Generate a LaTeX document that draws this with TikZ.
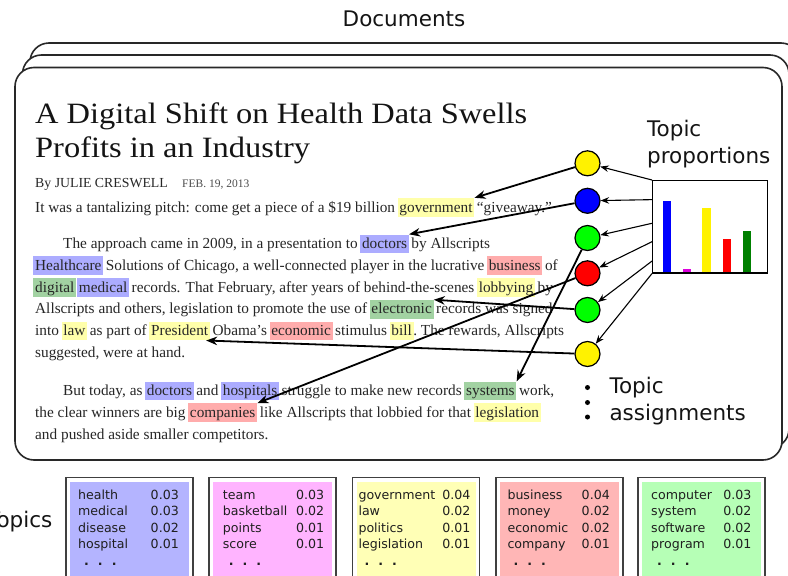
\documentclass[tikz,border=0pt]{standalone}
\usepackage{fontspec}
\setmainfont{Liberation Serif}
\newfontfamily\labfont{DejaVu Sans}
\newfontfamily\artfont{Liberation Serif}
\newfontfamily\titfont[FakeStretch=1.1]{Liberation Serif}
\usetikzlibrary{arrows.meta,calc}

\definecolor{hlB}{RGB}{172,172,255}
\definecolor{hlY}{RGB}{255,255,170}
\definecolor{hlR}{RGB}{255,172,172}
\definecolor{hlG}{RGB}{162,210,162}
\definecolor{tbB}{RGB}{180,180,255}
\definecolor{tbP}{RGB}{255,180,255}
\definecolor{tbY}{RGB}{255,255,182}
\definecolor{tbR}{RGB}{255,182,182}
\definecolor{tbG}{RGB}{182,255,182}
\definecolor{artgray}{RGB}{38,38,38}
\definecolor{cardline}{RGB}{40,40,40}
\definecolor{dkgreen}{RGB}{0,128,0}
\definecolor{magbar}{RGB}{220,0,220}

\newcommand\artbody{\artfont\fontsize{15.3}{21.8}\selectfont}
\newcommand\labsize{\labfont\fontsize{21.5}{26}\selectfont}
\newcommand\tsize{\labfont\fontsize{12.6}{15}\selectfont}
\def\sg{2.2pt}
\def\hg{0.6pt}

\newcommand\topicbox[6]{%
  \draw[tbframe] (#2,477.3) rectangle ++(127,130);
  \fill[#3] (#2+4,481.5) rectangle ++(119,130);
  \foreach \w/\n [count=\i] in {#6} {
    \node[tword, anchor=base west] (#1w\i) at (#2+#4, 482.4+16.6*\i) {\w};
    \node[tword, anchor=base east] (#1n\i) at (#2+#5, 482.4+16.6*\i) {\n};
  }
  \node[tword, anchor=base west, font={\labfont\bfseries\fontsize{12.6}{15}\selectfont}] (#1d) at (#2+#4+6, 565) {.\hspace{9pt}.\hspace{9pt}.};
}

\begin{document}
\begin{tikzpicture}[x=1pt,y=-1pt,
  card/.style={draw=cardline, line width=1.6pt, fill=white, rounded corners=19pt},
  txt/.style={inner sep=0pt, anchor=base west, font=\artbody, text=artgray},
  hl/.style={txt, inner xsep=1.8pt, text height=14pt, text depth=4.6pt, fill=#1},
  title/.style={inner sep=0pt, anchor=base west, font={\titfont\fontsize{29.5}{34}\selectfont}, text=black!92},
  lab/.style={inner sep=0pt, anchor=base west, font=\labsize, text=black!92},
  topic/.style={circle, draw=black, line width=1.2pt, minimum size=25pt, inner sep=0pt, fill=#1},
  bigarr/.style={draw=black, line width=1.8pt, -{Stealth[length=11pt,width=8.5pt,inset=3.5pt]}},
  thinarr/.style={draw=black, line width=1.1pt, -{Stealth[length=8.5pt,width=6.5pt,inset=2.8pt]}},
  tbframe/.style={draw=black!75, line width=1.3pt, fill=white},
  tword/.style={inner sep=0pt, font=\tsize, text=black!88},
  bar/.style={inner sep=0pt, minimum width=8.5pt, anchor=south, fill=#1}
]
\path[use as bounding box] (0,0) rectangle (788,576);
\clip (0,0) rectangle (788,576);

% heading
\node[inner sep=0pt, font=\labsize, text=black!92] (docs) at (404,19) {Documents};

% stacked document cards
\draw[card] (30,43) rectangle (800,436);
\draw[card] (22.5,55) rectangle (789,448);
\draw[card] (15,67.5) rectangle (782,460);

% article title and byline
\node[title] (t1) at (35,123) {A Digital Shift on Health Data Swells};
\node[title] (t2) at (35,157) {Profits in an Industry};
\node[txt, font={\artfont\fontsize{13.8}{16}\selectfont}] (by) at (35,187) {By JULIE CRESWELL};
\node[txt, font={\artfont\fontsize{11.5}{14}\selectfont}, text=black!70] (date) at ([xshift=14pt]by.base east) {FEB. 19, 2013};

% line 2
\node[txt] (l2a) at (35,212) {It was a tantalizing pitch: come get a piece of a \$19 billion};
\node[hl=hlY] (gov) at ([xshift=\sg]l2a.base east) {government};
\node[txt] (l2b) at ([xshift=\sg]gov.base east) {“giveaway.”};

% paragraph 2
\node[txt] (l3a) at (63,248.5) {The approach came in 2009, in a presentation to};
\node[hl=hlB] (doc1) at ([xshift=\sg]l3a.base east) {doctors};
\node[txt] (l3b) at ([xshift=\sg]doc1.base east) {by Allscripts};

\node[hl=hlB] (hc) at (33.2,270.3) {Healthcare};
\node[txt] (l4a) at ([xshift=\sg]hc.base east) {Solutions of Chicago, a well-connected player in the lucrative};
\node[hl=hlR] (bus) at ([xshift=\sg]l4a.base east) {business};
\node[txt] (l4b) at ([xshift=\sg]bus.base east) {of};

\node[hl=hlG] (dig) at (33.2,292.1) {digital};
\node[hl=hlB] (med) at ([xshift=\hg]dig.base east) {medical};
\node[txt] (l5a) at ([xshift=\sg]med.base east) {records. That February, after years of behind-the-scenes};
\node[hl=hlY] (lob) at ([xshift=\sg]l5a.base east) {lobbying};
\node[txt] (l5b) at ([xshift=\sg]lob.base east) {by};

\node[txt] (l6a) at (35,313.9) {Allscripts and others, legislation to promote the use of};
\node[hl=hlG] (elec) at ([xshift=\sg]l6a.base east) {electronic};
\node[txt] (l6b) at ([xshift=\sg]elec.base east) {records was signed};

\node[txt] (l7a) at (35,335.7) {into};
\node[hl=hlY] (law) at ([xshift=\sg]l7a.base east) {law};
\node[txt] (l7b) at ([xshift=\sg]law.base east) {as part of};
\node[hl=hlY] (pres) at ([xshift=\sg]l7b.base east) {President};
\node[txt] (l7c) at ([xshift=\sg]pres.base east) {Obama’s};
\node[hl=hlR] (econ) at ([xshift=\sg]l7c.base east) {economic};
\node[txt] (l7d) at ([xshift=\sg]econ.base east) {stimulus};
\node[hl=hlY] (bill) at ([xshift=\sg]l7d.base east) {bill};
\node[txt] (l7e) at ([xshift=-0.8pt]bill.base east) {.\ The rewards, Allscripts};

\node[txt] (l8) at (35,357.5) {suggested, were at hand.};

% paragraph 3
\node[txt] (l9a) at (63,395.5) {But today, as};
\node[hl=hlB] (doc2) at ([xshift=\sg]l9a.base east) {doctors};
\node[txt] (l9b) at ([xshift=\sg]doc2.base east) {and};
\node[hl=hlB] (hosp) at ([xshift=\sg]l9b.base east) {hospitals};
\node[txt] (l9c) at ([xshift=\sg]hosp.base east) {struggle to make new records};
\node[hl=hlG] (sys) at ([xshift=\sg]l9c.base east) {systems};
\node[txt] (l9d) at ([xshift=\sg]sys.base east) {work,};

\node[txt] (l10a) at (35,417.3) {the clear winners are big};
\node[hl=hlR] (comp) at ([xshift=\sg]l10a.base east) {companies};
\node[txt] (l10b) at ([xshift=\sg]comp.base east) {like Allscripts that lobbied for that};
\node[hl=hlY] (legis) at ([xshift=\sg]l10b.base east) {legislation};

\node[txt] (l11) at (35,439.1) {and pushed aside smaller competitors.};

% topic proportions
\node[lab] (tp1) at (647,136) {Topic};
\node[lab] (tp2) at (647,163) {proportions};
\node[draw=black, line width=1.2pt, fill=white, inner sep=0pt, minimum width=115pt, minimum height=92.3pt, anchor=north west] (bars) at (652,180) {};
\node[bar=blue, minimum height=71.5pt] (b1) at (667,272.3) {};
\node[bar=magbar, minimum height=2.8pt] (b2) at (687,272.3) {};
\node[bar=yellow, minimum height=64pt] (b3) at (706.5,272.3) {};
\node[bar=red, minimum height=33pt] (b4) at (726.8,272.3) {};
\node[bar=dkgreen, minimum height=41.6pt] (b5) at (746.8,272.3) {};

% topic assignment circles
\node[topic=yellow] (c1) at (587.5,163.3) {};
\node[topic=blue]   (c2) at (587.5,200.8) {};
\node[topic=green]  (c3) at (587.5,238) {};
\node[topic=red]    (c4) at (587.5,273.3) {};
\node[topic=green]  (c5) at (587.5,310) {};
\node[topic=yellow] (c6) at (587.5,354) {};

% proportions -> assignments
\coordinate (p1) at (bars.north west);
\coordinate (p2) at ($(bars.north west)!0.21!(bars.south west)$);
\coordinate (p3) at ($(bars.north west)!0.463!(bars.south west)$);
\coordinate (p4) at ($(bars.north west)!0.66!(bars.south west)$);
\coordinate (p5) at ($(bars.north west)!0.867!(bars.south west)$);
\coordinate (p6) at (bars.south west);
\draw[thinarr] (p1) -- (c1);
\draw[thinarr] (p2) -- (c2);
\draw[thinarr] (p3) -- (c3);
\draw[thinarr] (p4) -- (c4);
\draw[thinarr] (p5) -- (c5);
\draw[thinarr] (p6) -- (c6);

% assignments -> words
\draw[bigarr] (c1) -- (gov.north east);
\draw[bigarr] (c2) -- (doc1.north east);
\draw[bigarr] (c3) -- (sys.north east);
\draw[bigarr] (c4) -- (comp.north east);
\draw[bigarr] (c5) -- (elec.north east);
\draw[bigarr] (c6) -- ([xshift=-4pt]pres.south east);

% vertical dots and label
\node[circle, fill=black, inner sep=0pt, minimum size=5pt] (v1) at (587.5,387.5) {};
\node[circle, fill=black, inner sep=0pt, minimum size=5pt] (v2) at (587.5,402.5) {};
\node[circle, fill=black, inner sep=0pt, minimum size=5pt] (v3) at (587.5,417) {};
\node[lab] (ta1) at (609.3,393) {Topic};
\node[lab] (ta2) at (609.3,420.5) {assignments};

% topics
\node[inner sep=0pt, anchor=base east, font=\labsize, text=black!92] (topics) at (52.5,527) {Topics};
\topicbox{tA}{66}{tbB}{12}{113}{health/0.03, medical/0.03, disease/0.02, hospital/0.01}
\topicbox{tB}{209}{tbP}{13.7}{115.3}{team/0.03, basketball/0.02, points/0.01, score/0.01}
\topicbox{tC}{352.7}{tbY}{5.6}{118}{government/0.04, law/0.02, politics/0.01, legislation/0.01}
\topicbox{tD}{496}{tbR}{11.3}{114}{business/0.04, money/0.02, economic/0.02, company/0.01}
\topicbox{tE}{638}{tbG}{13}{113.7}{computer/0.03, system/0.02, software/0.02, program/0.01}
\end{tikzpicture}
\end{document}
